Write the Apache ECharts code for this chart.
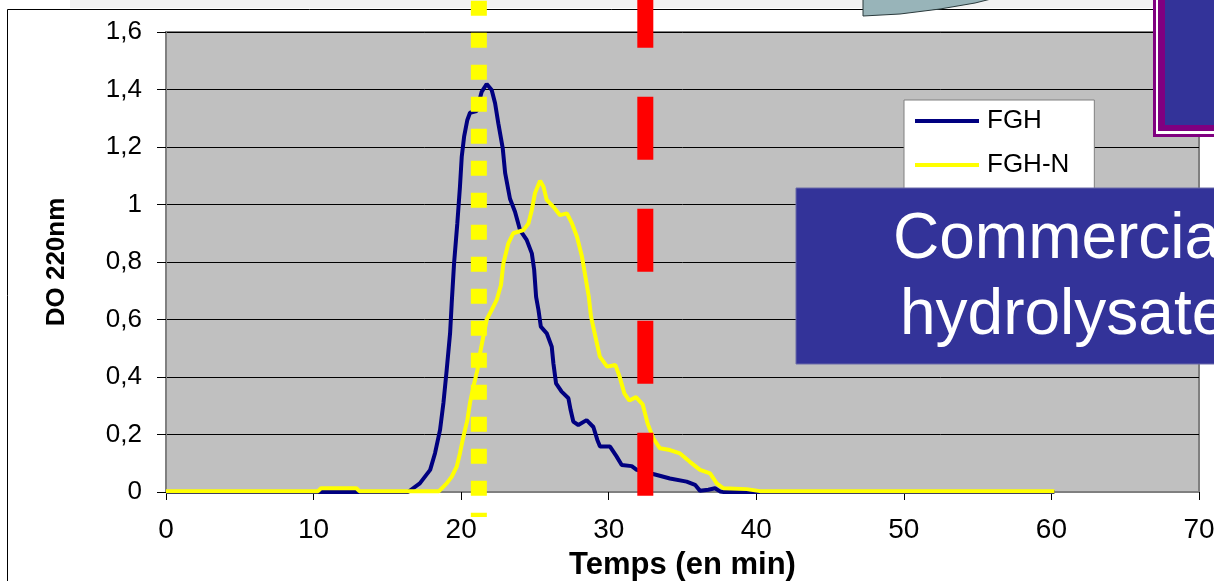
<!DOCTYPE html>
<html>
<head>
<meta charset="utf-8">
<script src="https://cdn.jsdelivr.net/npm/echarts@6/dist/echarts.min.js"></script>
<style>
  html, body { margin: 0; padding: 0; background: #fff; }
  #chart { width: 1214px; height: 581px; }
</style>
</head>
<body>
<div id="chart"></div>
<script>
  const fghTime = [0, 16.4, 17.2, 17.9, 18.23, 18.57, 18.8, 19.02, 19.25, 19.36, 19.52, 19.74, 19.92, 20.04, 20.2, 20.42, 20.6, 21.05, 21.39, 21.73, 22.07, 22.3, 22.52, 22.82, 22.98, 23.31, 23.65, 23.99, 24.44, 24.79, 24.95, 25.08, 25.24, 25.4, 25.8, 26.14, 26.25, 26.43, 26.81, 27.27, 27.42, 27.6, 27.94, 28.5, 28.96, 29.23, 29.41, 30.09, 30.54, 30.88, 31.56, 31.9, 33.2, 34.15, 35.28, 35.85, 36.19, 36.75, 37.2, 37.54, 37.8, 60.2];
  const fghValue = [0, 0, 0.03, 0.077, 0.135, 0.216, 0.31, 0.424, 0.552, 0.656, 0.795, 0.934, 1.062, 1.166, 1.236, 1.294, 1.319, 1.325, 1.392, 1.419, 1.398, 1.352, 1.282, 1.195, 1.11, 1.02, 0.975, 0.911, 0.877, 0.83, 0.772, 0.679, 0.633, 0.575, 0.552, 0.505, 0.448, 0.378, 0.349, 0.326, 0.285, 0.245, 0.233, 0.25, 0.226, 0.181, 0.158, 0.158, 0.123, 0.094, 0.09, 0.077, 0.06, 0.047, 0.036, 0.025, 0.004, 0.008, 0.013, 0.002, 0, 0];

  const fghnTime = [0, 10.3, 10.5, 12.9, 13.1, 18.5, 19.02, 19.36, 19.7, 19.92, 20.15, 20.42, 20.6, 20.83, 21.1, 21.28, 21.5, 21.73, 22.07, 22.41, 22.7, 22.86, 23.2, 23.53, 24.22, 24.56, 24.79, 25.0, 25.35, 25.58, 25.8, 26.25, 26.7, 27.17, 27.51, 27.85, 28.19, 28.42, 28.65, 28.8, 29.1, 29.4, 29.89, 30.45, 30.74, 31.06, 31.4, 31.85, 32.3, 32.65, 33.02, 33.47, 34.15, 34.83, 35.5, 36.19, 36.87, 37.32, 37.77, 39.35, 40.25, 60.2];
  const fghnValue = [0.003, 0.003, 0.013, 0.013, 0.003, 0.003, 0.03, 0.053, 0.088, 0.135, 0.192, 0.25, 0.31, 0.366, 0.424, 0.482, 0.54, 0.6, 0.633, 0.668, 0.72, 0.795, 0.865, 0.9, 0.911, 0.934, 0.981, 1.039, 1.083, 1.062, 1.016, 0.992, 0.963, 0.969, 0.934, 0.888, 0.818, 0.749, 0.679, 0.61, 0.54, 0.471, 0.436, 0.442, 0.401, 0.343, 0.318, 0.33, 0.305, 0.236, 0.187, 0.152, 0.146, 0.134, 0.105, 0.077, 0.065, 0.03, 0.013, 0.01, 0.003, 0.003];

  const seriesNames = ['FGH', 'FGH-N'];
  const yellowMarkTime = 21.2;   // ligne pointillée jaune
  const redMarkTime = 32.48;     // ligne tiretée rouge
  const boxText = ['Commercia', 'hydrolysate'];

  const font = 'Liberation Sans, Arial, sans-serif';
  let chart = echarts.init(document.getElementById('chart'));

  function pairs(xs, ys) {
    return xs.map((x, i) => [x, ys[i]]);
  }

  let option = {
    animation: false,
    backgroundColor: '#fff',
    grid: {
      left: 166,
      top: 32,
      right: 15,
      bottom: 89,
      containLabel: false,
      outerBoundsMode: 'none',
      show: true,
      backgroundColor: '#c0c0c0',
      borderColor: '#808080',
      borderWidth: 2
    },
    legend: {
      orient: 'vertical',
      left: 904,
      top: 100,
      data: seriesNames,
      icon: 'rect',
      itemWidth: 64,
      itemHeight: 4,
      itemGap: 18,
      padding: [8, 25, 30, 11],
      backgroundColor: '#fff',
      borderColor: '#808080',
      borderWidth: 1,
      textStyle: { fontFamily: font, fontSize: 26, color: '#000', padding: [0, 0, 0, 3] }
    },
    xAxis: {
      type: 'value',
      min: 0,
      max: 70,
      interval: 10,
      name: 'Temps (en min)',
      nameLocation: 'middle',
      nameGap: 58,
      nameTextStyle: { fontFamily: font, fontSize: 31, fontWeight: 'bold', color: '#000' },
      axisLine: { show: true, lineStyle: { color: '#808080', width: 2 } },
      axisTick: { show: true, length: 8, lineStyle: { color: '#000' } },
      axisLabel: { fontFamily: font, fontSize: 28, color: '#000', margin: 24 },
      splitLine: { show: false }
    },
    yAxis: {
      type: 'value',
      min: 0,
      max: 1.6,
      interval: 0.2,
      name: 'DO 220nm',
      nameLocation: 'middle',
      nameGap: 96,
      nameRotate: 90,
      nameTextStyle: { fontFamily: font, fontSize: 26, fontWeight: 'bold', color: '#000' },
      axisLine: { show: true, lineStyle: { color: '#808080', width: 2 } },
      axisTick: { show: true, length: 9, lineStyle: { color: '#000' } },
      axisLabel: {
        fontFamily: font, fontSize: 26, color: '#000', margin: 24,
        formatter: v => String(+v.toFixed(1)).replace('.', ',')
      },
      splitLine: { show: true, lineStyle: { color: '#000', width: 1 } }
    },
    series: [
      {
        name: seriesNames[0],
        type: 'line',
        data: pairs(fghTime, fghValue),
        showSymbol: false,
        color: '#000080',
        lineStyle: { color: '#000080', width: 4 },
        z: 2
      },
      {
        name: seriesNames[1],
        type: 'line',
        data: pairs(fghnTime, fghnValue),
        showSymbol: false,
        color: '#ffff00',
        lineStyle: { color: '#ffff00', width: 4 },
        z: 3
      }
    ]
  };
  chart.setOption(option);

  // superpositions de la diapositive
  let xYellow = chart.convertToPixel({ xAxisIndex: 0 }, yellowMarkTime);
  let xRed = chart.convertToPixel({ xAxisIndex: 0 }, redMarkTime);
  let textStyle = { fill: '#fff', font: '64px ' + font, verticalAlign: 'middle', align: 'left' };

  chart.setOption({
    graphic: [
      { type: 'rect', z: 1, shape: { x: 70, y: 0, width: 1083, height: 8 }, style: { fill: '#f2f2f2' } },
      { type: 'rect', z: 1, shape: { x: 7.5, y: 9.5, width: 1400, height: 700 }, style: { fill: null, stroke: '#000', lineWidth: 1 } },
      { type: 'polygon', z: 60, shape: { points: [[863, -2], [863, 16], [900, 14], [940, 9], [975, 3], [995, -2]] }, style: { fill: '#98b4b9', stroke: '#2a3a3c', lineWidth: 1 } },
      { type: 'line', z: 50, shape: { x1: xYellow, y1: 0.7, x2: xYellow, y2: 517 }, style: { stroke: '#ffff00', lineWidth: 16, lineDash: [15, 17], lineCap: 'butt' } },
      { type: 'line', z: 50, shape: { x1: xRed, y1: -15.3, x2: xRed, y2: 496 }, style: { stroke: '#ff0000', lineWidth: 16, lineDash: [63, 49], lineCap: 'butt' } },
      { type: 'rect', z: 60, shape: { x: 1153, y: -5, width: 100, height: 142 }, style: { fill: '#800080' } },
      { type: 'rect', z: 61, shape: { x: 1156, y: -5, width: 100, height: 139 }, style: { fill: '#ffffff' } },
      { type: 'rect', z: 62, shape: { x: 1158, y: -5, width: 100, height: 136 }, style: { fill: '#800080' } },
      { type: 'rect', z: 63, shape: { x: 1165, y: -5, width: 100, height: 130 }, style: { fill: '#333399' } },
      { type: 'rect', z: 60, shape: { x: 796, y: 188, width: 500, height: 176 }, style: { fill: '#333399', stroke: '#6a6aa8', lineWidth: 1 } },
      { type: 'text', z: 61, x: 893, y: 240, style: Object.assign({ text: boxText[0] }, textStyle) },
      { type: 'text', z: 61, x: 900, y: 316, style: Object.assign({ text: boxText[1] }, textStyle) }
    ]
  });
</script>
</body>
</html>
